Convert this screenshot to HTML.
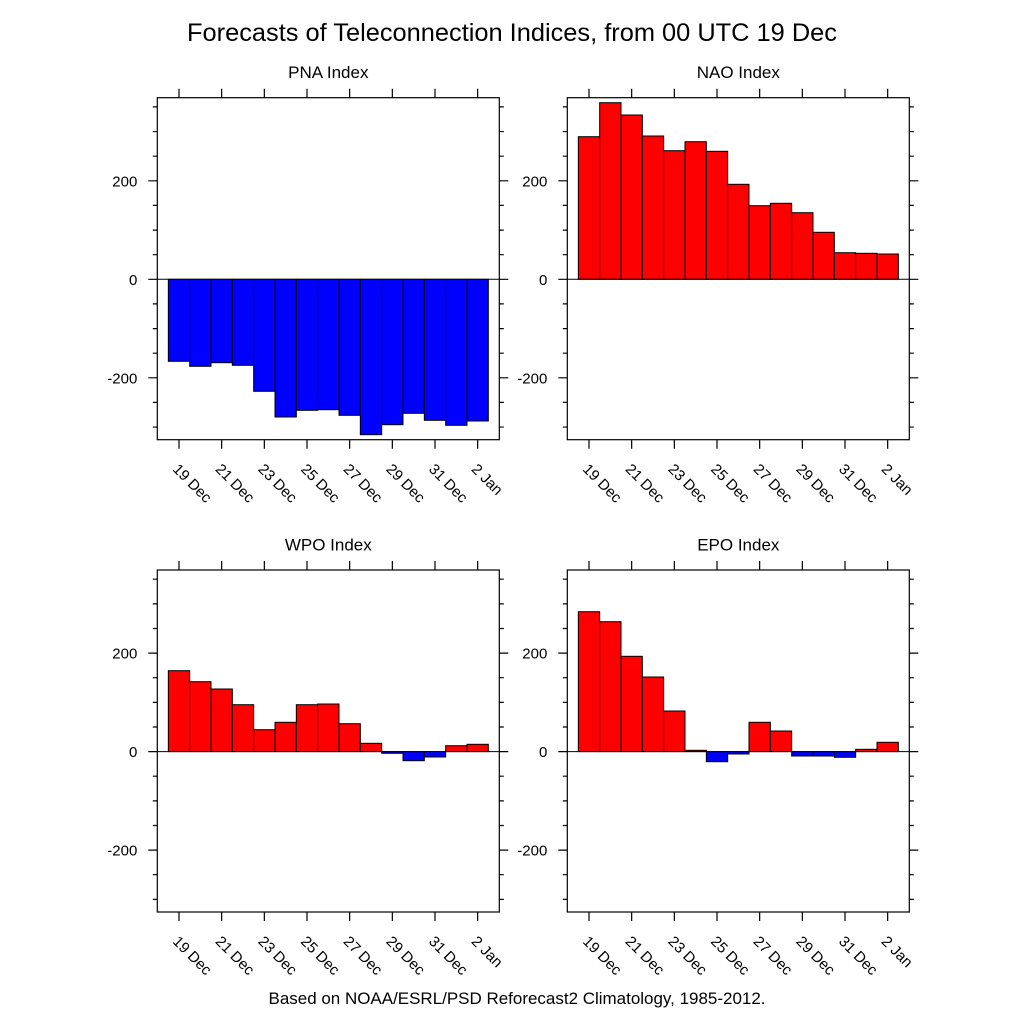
<!DOCTYPE html>
<html>
<head>
<meta charset="utf-8">
<style>
html,body{margin:0;padding:0;background:#fff;}
svg{display:block;}
text{font-family:"Liberation Sans",Arial,sans-serif;fill:#000;}
.tl{font-size:15px;}
.pt{font-size:17px;}
.bar{stroke:#000;stroke-width:1;}
.r{fill:#ff0000;}
.b{fill:#0000ff;}
.box{fill:none;stroke:#000;stroke-width:1.2;}
.tk{fill:none;stroke:#000;stroke-width:1.2;}
.zl{stroke:#000;stroke-width:1;}
</style>
</head>
<body>
<svg width="1024" height="1024" viewBox="0 0 1024 1024" xmlns="http://www.w3.org/2000/svg">
<rect width="1024" height="1024" fill="#fff"/>
<text x="512" y="41" text-anchor="middle" font-size="25" textLength="650" lengthAdjust="spacingAndGlyphs">Forecasts of Teleconnection Indices, from 00 UTC 19 Dec</text>

<!-- PNA -->
<g transform="translate(157.3,97.7)">
<rect class="bar b" x="11.03" y="181.6" width="21.33" height="82.0"/>
<rect class="bar b" x="32.37" y="181.6" width="21.33" height="87.0"/>
<rect class="bar b" x="53.70" y="181.6" width="21.33" height="83.4"/>
<rect class="bar b" x="75.03" y="181.6" width="21.33" height="86.0"/>
<rect class="bar b" x="96.36" y="181.6" width="21.33" height="112.0"/>
<rect class="bar b" x="117.70" y="181.6" width="21.33" height="137.7"/>
<rect class="bar b" x="139.03" y="181.6" width="21.33" height="131.0"/>
<rect class="bar b" x="160.36" y="181.6" width="21.33" height="130.4"/>
<rect class="bar b" x="181.70" y="181.6" width="21.33" height="136.0"/>
<rect class="bar b" x="203.03" y="181.6" width="21.33" height="155.4"/>
<rect class="bar b" x="224.36" y="181.6" width="21.33" height="145.4"/>
<rect class="bar b" x="245.70" y="181.6" width="21.33" height="134.0"/>
<rect class="bar b" x="267.03" y="181.6" width="21.33" height="141.0"/>
<rect class="bar b" x="288.36" y="181.6" width="21.33" height="146.0"/>
<rect class="bar b" x="309.70" y="181.6" width="21.33" height="141.7"/>
<line class="zl" x1="0" y1="181.6" x2="342" y2="181.6"/>
<rect class="box" x="0" y="0" width="342" height="342"/>
<path class="tk" d="M-9 83.1H0M-9 181.6H0M-9 280.1H0M-4.5 9.2H0M-4.5 33.85H0M-4.5 58.5H0M-4.5 107.7H0M-4.5 132.4H0M-4.5 157H0M-4.5 206.2H0M-4.5 230.9H0M-4.5 255.5H0M-4.5 304.7H0M-4.5 329.35H0M342 83.1H351M342 181.6H351M342 280.1H351M342 9.2H346.5M342 33.85H346.5M342 58.5H346.5M342 107.7H346.5M342 132.4H346.5M342 157H346.5M342 206.2H346.5M342 230.9H346.5M342 255.5H346.5M342 304.7H346.5M342 329.35H346.5M21.7 0V-9M64.37 0V-9M107.03 0V-9M149.7 0V-9M192.37 0V-9M235.03 0V-9M277.7 0V-9M320.37 0V-9M21.7 342V351M64.37 342V351M107.03 342V351M149.7 342V351M192.37 342V351M235.03 342V351M277.7 342V351M320.37 342V351"/>
<text class="tl" x="-20" y="88.6" text-anchor="end">200</text>
<text class="tl" x="-20" y="187.1" text-anchor="end">0</text>
<text class="tl" x="-20" y="285.6" text-anchor="end">-200</text>
<text class="tl" transform="translate(14.7,372.3) rotate(45)">19 Dec</text>
<text class="tl" transform="translate(57.37,372.3) rotate(45)">21 Dec</text>
<text class="tl" transform="translate(100.03,372.3) rotate(45)">23 Dec</text>
<text class="tl" transform="translate(142.7,372.3) rotate(45)">25 Dec</text>
<text class="tl" transform="translate(185.37,372.3) rotate(45)">27 Dec</text>
<text class="tl" transform="translate(228.03,372.3) rotate(45)">29 Dec</text>
<text class="tl" transform="translate(270.7,372.3) rotate(45)">31 Dec</text>
<text class="tl" transform="translate(313.37,372.3) rotate(45)">2 Jan</text>
<text class="pt" x="171" y="-19.5" text-anchor="middle">PNA Index</text>
</g>

<!-- NAO -->
<g transform="translate(567.3,97.7)">
<rect class="bar r" x="11.03" y="39.0" width="21.33" height="142.6"/>
<rect class="bar r" x="32.37" y="5.0" width="21.33" height="176.6"/>
<rect class="bar r" x="53.70" y="17.3" width="21.33" height="164.3"/>
<rect class="bar r" x="75.03" y="38.3" width="21.33" height="143.3"/>
<rect class="bar r" x="96.36" y="53.0" width="21.33" height="128.6"/>
<rect class="bar r" x="117.70" y="44.0" width="21.33" height="137.6"/>
<rect class="bar r" x="139.03" y="53.6" width="21.33" height="128.0"/>
<rect class="bar r" x="160.36" y="86.6" width="21.33" height="95.0"/>
<rect class="bar r" x="181.70" y="108.0" width="21.33" height="73.6"/>
<rect class="bar r" x="203.03" y="105.6" width="21.33" height="76.0"/>
<rect class="bar r" x="224.36" y="115.0" width="21.33" height="66.6"/>
<rect class="bar r" x="245.70" y="134.6" width="21.33" height="47.0"/>
<rect class="bar r" x="267.03" y="155.0" width="21.33" height="26.6"/>
<rect class="bar r" x="288.36" y="155.6" width="21.33" height="26.0"/>
<rect class="bar r" x="309.70" y="156.3" width="21.33" height="25.3"/>
<line class="zl" x1="0" y1="181.6" x2="342" y2="181.6"/>
<rect class="box" x="0" y="0" width="342" height="342"/>
<path class="tk" d="M-9 83.1H0M-9 181.6H0M-9 280.1H0M-4.5 9.2H0M-4.5 33.85H0M-4.5 58.5H0M-4.5 107.7H0M-4.5 132.4H0M-4.5 157H0M-4.5 206.2H0M-4.5 230.9H0M-4.5 255.5H0M-4.5 304.7H0M-4.5 329.35H0M342 83.1H351M342 181.6H351M342 280.1H351M342 9.2H346.5M342 33.85H346.5M342 58.5H346.5M342 107.7H346.5M342 132.4H346.5M342 157H346.5M342 206.2H346.5M342 230.9H346.5M342 255.5H346.5M342 304.7H346.5M342 329.35H346.5M21.7 0V-9M64.37 0V-9M107.03 0V-9M149.7 0V-9M192.37 0V-9M235.03 0V-9M277.7 0V-9M320.37 0V-9M21.7 342V351M64.37 342V351M107.03 342V351M149.7 342V351M192.37 342V351M235.03 342V351M277.7 342V351M320.37 342V351"/>
<text class="tl" x="-20" y="88.6" text-anchor="end">200</text>
<text class="tl" x="-20" y="187.1" text-anchor="end">0</text>
<text class="tl" x="-20" y="285.6" text-anchor="end">-200</text>
<text class="tl" transform="translate(14.7,372.3) rotate(45)">19 Dec</text>
<text class="tl" transform="translate(57.37,372.3) rotate(45)">21 Dec</text>
<text class="tl" transform="translate(100.03,372.3) rotate(45)">23 Dec</text>
<text class="tl" transform="translate(142.7,372.3) rotate(45)">25 Dec</text>
<text class="tl" transform="translate(185.37,372.3) rotate(45)">27 Dec</text>
<text class="tl" transform="translate(228.03,372.3) rotate(45)">29 Dec</text>
<text class="tl" transform="translate(270.7,372.3) rotate(45)">31 Dec</text>
<text class="tl" transform="translate(313.37,372.3) rotate(45)">2 Jan</text>
<text class="pt" x="171" y="-19.5" text-anchor="middle">NAO Index</text>
</g>

<!-- WPO -->
<g transform="translate(157.3,570)">
<rect class="bar r" x="11.03" y="100.7" width="21.33" height="80.9"/>
<rect class="bar r" x="32.37" y="111.7" width="21.33" height="69.9"/>
<rect class="bar r" x="53.70" y="119.0" width="21.33" height="62.6"/>
<rect class="bar r" x="75.03" y="134.7" width="21.33" height="46.9"/>
<rect class="bar r" x="96.36" y="159.7" width="21.33" height="21.9"/>
<rect class="bar r" x="117.70" y="152.3" width="21.33" height="29.3"/>
<rect class="bar r" x="139.03" y="134.7" width="21.33" height="46.9"/>
<rect class="bar r" x="160.36" y="134.0" width="21.33" height="47.6"/>
<rect class="bar r" x="181.70" y="153.7" width="21.33" height="27.9"/>
<rect class="bar r" x="203.03" y="173.3" width="21.33" height="8.3"/>
<rect class="bar b" x="224.36" y="181.6" width="21.33" height="1.7"/>
<rect class="bar b" x="245.70" y="181.6" width="21.33" height="9.1"/>
<rect class="bar b" x="267.03" y="181.6" width="21.33" height="5.4"/>
<rect class="bar r" x="288.36" y="175.7" width="21.33" height="5.9"/>
<rect class="bar r" x="309.70" y="174.3" width="21.33" height="7.3"/>
<line class="zl" x1="0" y1="181.6" x2="342" y2="181.6"/>
<rect class="box" x="0" y="0" width="342" height="342"/>
<path class="tk" d="M-9 83.1H0M-9 181.6H0M-9 280.1H0M-4.5 9.2H0M-4.5 33.85H0M-4.5 58.5H0M-4.5 107.7H0M-4.5 132.4H0M-4.5 157H0M-4.5 206.2H0M-4.5 230.9H0M-4.5 255.5H0M-4.5 304.7H0M-4.5 329.35H0M342 83.1H351M342 181.6H351M342 280.1H351M342 9.2H346.5M342 33.85H346.5M342 58.5H346.5M342 107.7H346.5M342 132.4H346.5M342 157H346.5M342 206.2H346.5M342 230.9H346.5M342 255.5H346.5M342 304.7H346.5M342 329.35H346.5M21.7 0V-9M64.37 0V-9M107.03 0V-9M149.7 0V-9M192.37 0V-9M235.03 0V-9M277.7 0V-9M320.37 0V-9M21.7 342V351M64.37 342V351M107.03 342V351M149.7 342V351M192.37 342V351M235.03 342V351M277.7 342V351M320.37 342V351"/>
<text class="tl" x="-20" y="88.6" text-anchor="end">200</text>
<text class="tl" x="-20" y="187.1" text-anchor="end">0</text>
<text class="tl" x="-20" y="285.6" text-anchor="end">-200</text>
<text class="tl" transform="translate(14.7,372.3) rotate(45)">19 Dec</text>
<text class="tl" transform="translate(57.37,372.3) rotate(45)">21 Dec</text>
<text class="tl" transform="translate(100.03,372.3) rotate(45)">23 Dec</text>
<text class="tl" transform="translate(142.7,372.3) rotate(45)">25 Dec</text>
<text class="tl" transform="translate(185.37,372.3) rotate(45)">27 Dec</text>
<text class="tl" transform="translate(228.03,372.3) rotate(45)">29 Dec</text>
<text class="tl" transform="translate(270.7,372.3) rotate(45)">31 Dec</text>
<text class="tl" transform="translate(313.37,372.3) rotate(45)">2 Jan</text>
<text class="pt" x="171" y="-19.5" text-anchor="middle">WPO Index</text>
</g>

<!-- EPO -->
<g transform="translate(567.3,570)">
<rect class="bar r" x="11.03" y="41.7" width="21.33" height="139.9"/>
<rect class="bar r" x="32.37" y="51.7" width="21.33" height="129.9"/>
<rect class="bar r" x="53.70" y="86.3" width="21.33" height="95.3"/>
<rect class="bar r" x="75.03" y="107.0" width="21.33" height="74.6"/>
<rect class="bar r" x="96.36" y="141.0" width="21.33" height="40.6"/>
<rect class="bar r" x="117.70" y="180.3" width="21.33" height="1.3"/>
<rect class="bar b" x="139.03" y="181.6" width="21.33" height="10.1"/>
<rect class="bar b" x="160.36" y="181.6" width="21.33" height="2.4"/>
<rect class="bar r" x="181.70" y="152.3" width="21.33" height="29.3"/>
<rect class="bar r" x="203.03" y="161.0" width="21.33" height="20.6"/>
<rect class="bar b" x="224.36" y="181.6" width="21.33" height="4.4"/>
<rect class="bar b" x="245.70" y="181.6" width="21.33" height="4.4"/>
<rect class="bar b" x="267.03" y="181.6" width="21.33" height="5.7"/>
<rect class="bar r" x="288.36" y="179.3" width="21.33" height="2.3"/>
<rect class="bar r" x="309.70" y="172.3" width="21.33" height="9.3"/>
<line class="zl" x1="0" y1="181.6" x2="342" y2="181.6"/>
<rect class="box" x="0" y="0" width="342" height="342"/>
<path class="tk" d="M-9 83.1H0M-9 181.6H0M-9 280.1H0M-4.5 9.2H0M-4.5 33.85H0M-4.5 58.5H0M-4.5 107.7H0M-4.5 132.4H0M-4.5 157H0M-4.5 206.2H0M-4.5 230.9H0M-4.5 255.5H0M-4.5 304.7H0M-4.5 329.35H0M342 83.1H351M342 181.6H351M342 280.1H351M342 9.2H346.5M342 33.85H346.5M342 58.5H346.5M342 107.7H346.5M342 132.4H346.5M342 157H346.5M342 206.2H346.5M342 230.9H346.5M342 255.5H346.5M342 304.7H346.5M342 329.35H346.5M21.7 0V-9M64.37 0V-9M107.03 0V-9M149.7 0V-9M192.37 0V-9M235.03 0V-9M277.7 0V-9M320.37 0V-9M21.7 342V351M64.37 342V351M107.03 342V351M149.7 342V351M192.37 342V351M235.03 342V351M277.7 342V351M320.37 342V351"/>
<text class="tl" x="-20" y="88.6" text-anchor="end">200</text>
<text class="tl" x="-20" y="187.1" text-anchor="end">0</text>
<text class="tl" x="-20" y="285.6" text-anchor="end">-200</text>
<text class="tl" transform="translate(14.7,372.3) rotate(45)">19 Dec</text>
<text class="tl" transform="translate(57.37,372.3) rotate(45)">21 Dec</text>
<text class="tl" transform="translate(100.03,372.3) rotate(45)">23 Dec</text>
<text class="tl" transform="translate(142.7,372.3) rotate(45)">25 Dec</text>
<text class="tl" transform="translate(185.37,372.3) rotate(45)">27 Dec</text>
<text class="tl" transform="translate(228.03,372.3) rotate(45)">29 Dec</text>
<text class="tl" transform="translate(270.7,372.3) rotate(45)">31 Dec</text>
<text class="tl" transform="translate(313.37,372.3) rotate(45)">2 Jan</text>
<text class="pt" x="171" y="-19.5" text-anchor="middle">EPO Index</text>
</g>

<text x="517" y="1004" text-anchor="middle" font-size="17" textLength="497" lengthAdjust="spacingAndGlyphs">Based on NOAA/ESRL/PSD Reforecast2 Climatology, 1985-2012.</text>
</svg>
</body>
</html>
